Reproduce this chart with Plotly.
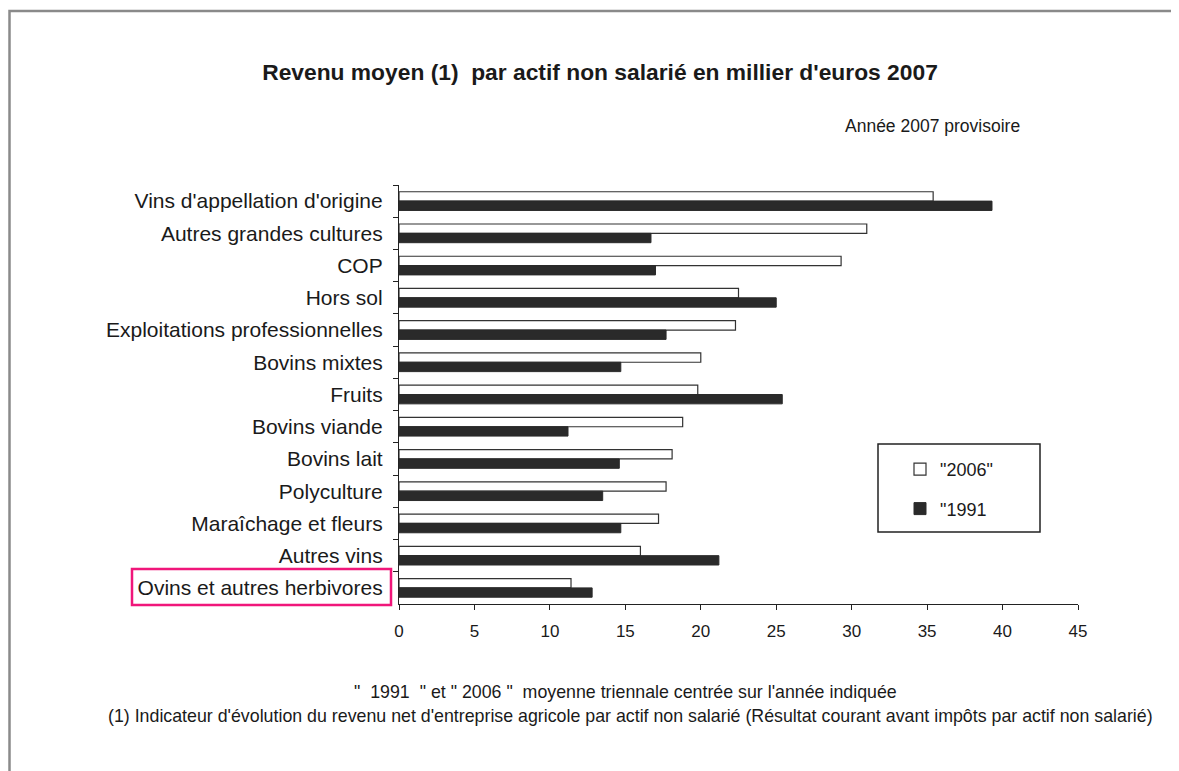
import plotly.graph_objects as go

categories = [
    "Vins d'appellation d'origine",
    "Autres grandes cultures",
    "COP",
    "Hors sol",
    "Exploitations professionnelles",
    "Bovins mixtes",
    "Fruits",
    "Bovins viande",
    "Bovins lait",
    "Polyculture",
    "Maraîchage et fleurs",
    "Autres vins",
    "Ovins et autres herbivores",
]
revenu_2006 = [35.4, 31.0, 29.3, 22.5, 22.3, 20.0, 19.8, 18.8, 18.1, 17.7, 17.2, 16.0, 11.4]
revenu_1991 = [39.3, 16.7, 17.0, 25.0, 17.7, 14.7, 25.4, 11.2, 14.6, 13.5, 14.7, 21.2, 12.8]
x_ticks = [0, 5, 10, 15, 20, 25, 30, 35, 40, 45]

FONT = "Liberation Sans, Arial, sans-serif"
OFF = 8  # page body margin
W, H = 1179 - OFF, 771 - OFF
L, R, T, B = 399 - OFF, 101, 185 - OFF, 167
pw, ph = W - L - R, H - T - B


def px_x(p):
    return (p - OFF - L) / pw


def px_y(p):
    return (H - B - (p - OFF)) / ph


fig = go.Figure(
    [
        go.Bar(
            y=categories,
            x=revenu_2006,
            orientation="h",
            name='"2006"',
            legendgroup="a",
            marker=dict(color="white", line=dict(color="#333333", width=1.2)),
        ),
        go.Bar(
            y=categories,
            x=revenu_1991,
            orientation="h",
            name='"1991',
            legendgroup="b",
            marker=dict(color="#2a2a2a", line=dict(color="#2a2a2a", width=1)),
        ),
    ]
)

fig.update_layout(
    width=W,
    height=H,
    margin=dict(l=L, r=R, t=T, b=B),
    paper_bgcolor="white",
    plot_bgcolor="white",
    barmode="group",
    bargap=0.42,
    bargroupgap=0,
    font=dict(family=FONT, color="#1a1a1a"),
    title=dict(
        text="<b>Revenu moyen (1)\u00a0 par actif non salarié en millier d'euros 2007</b>",
        font=dict(size=22.8, color="#1a1a1a"),
        xref="paper",
        x=px_x(600),
        xanchor="center",
        yref="container",
        y=1 - (72 - OFF) / H,
        yanchor="middle",
    ),
    legend=dict(
        x=px_x(900),
        y=px_y(451),
        xanchor="left",
        yanchor="top",
        bgcolor="rgba(0,0,0,0)",
        borderwidth=0,
        font=dict(size=18),
        traceorder="grouped",
        tracegroupgap=13,
    ),
    showlegend=True,
)

fig.update_yaxes(
    autorange="reversed",
    showline=True,
    linecolor="#222222",
    linewidth=1.2,
    ticks="outside",
    tickson="boundaries",
    ticklen=5,
    tickcolor="#222222",
    showgrid=False,
    tickfont=dict(size=21),
    ticklabelstandoff=11,
)
fig.update_xaxes(
    range=[0, 45],
    tickvals=x_ticks,
    showline=True,
    linecolor="#222222",
    linewidth=1.2,
    ticks="outside",
    ticklen=5,
    tickcolor="#222222",
    showgrid=False,
    zeroline=False,
    tickfont=dict(size=17),
    ticklabelstandoff=6,
)

# outer frame of the picture
fig.add_shape(
    type="rect",
    xref="paper",
    yref="paper",
    x0=px_x(9.5),
    x1=px_x(1200),
    y0=px_y(800),
    y1=px_y(11),
    line=dict(color="#8a8a8a", width=2.5),
    fillcolor="rgba(0,0,0,0)",
    layer="below",
)
# legend box
fig.add_shape(
    type="rect",
    xref="paper",
    yref="paper",
    x0=px_x(878),
    x1=px_x(1040),
    y0=px_y(532),
    y1=px_y(444),
    line=dict(color="#222222", width=1.5),
)
# pink highlight around the last label
fig.add_shape(
    type="rect",
    xref="paper",
    yref="paper",
    x0=px_x(132),
    x1=px_x(391),
    y0=px_y(605),
    y1=px_y(569),
    line=dict(color="#f0167a", width=2.5),
)

notes = [
    ("Année 2007 provisoire", 932, 126, 17.5),
    ('"\u00a0 1991\u00a0 " et " 2006 "\u00a0 moyenne triennale centrée sur l\'année indiquée', 625, 692, 17.8),
    (
        "(1) Indicateur d'évolution du revenu net d'entreprise agricole par actif non salarié "
        "(Résultat courant avant impôts par actif non salarié)",
        630,
        716,
        17.8,
    ),
]
for text, nx, ny, size in notes:
    fig.add_annotation(
        text=text,
        xref="paper",
        yref="paper",
        x=px_x(nx),
        y=px_y(ny),
        xanchor="center",
        yanchor="middle",
        showarrow=False,
        font=dict(size=size),
    )

fig.write_html("out.html")
